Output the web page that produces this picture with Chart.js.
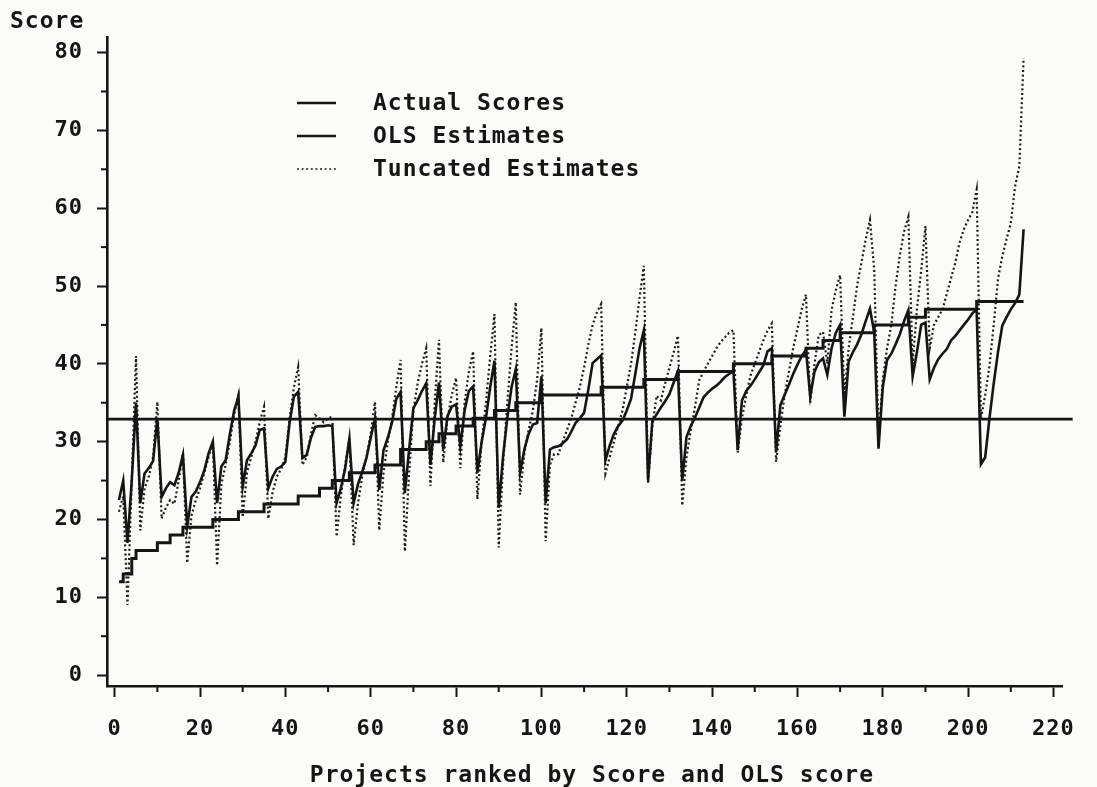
<!DOCTYPE html>
<html>
<head>
<meta charset="utf-8">
<script src="https://cdn.jsdelivr.net/npm/chart.js@4.4.0/dist/chart.umd.min.js"></script>
<style>
html,body{margin:0;padding:0;background:#fbfbf9;}
canvas{display:block;}
</style>
</head>
<body>
<canvas id="c" width="1097" height="787"></canvas>
<script>
// ---- data ----
const actualScores = [
  12,12, 13,13, 15, 16,16,16,16,16, 17,17,17, 18,18,18,
  19,19,19,19,19,19,19, 20,20,20,20,20,20, 21,21,21,21,21,21,
  22,22,22,22,22,22,22,22, 23,23,23,23,23, 24,24,24, 25,25,25,25,
  26,26,26,26,26,26, 27,27,27,27,27,27, 29,29,29,29,29,29,
  30,30,30, 31,31,31,31, 32,32,32,32, 33,33,33,33,33, 34,34,34,34,34,
  35,35,35,35,35,35, 36,36,36,36,36,36,36,36,36,36,36,36,36,36,
  37,37,37,37,37,37,37,37,37,37, 38,38,38,38,38,38,38,38,
  39,39,39,39,39,39,39,39,39,39,39,39,39, 40,40,40,40,40,40,40,40,40,
  41,41,41,41,41,41,41,41, 42,42,42,42, 43,43,43,43,
  44,44,44,44,44,44,44,44, 45,45,45,45,45,45,45,45, 46,46,46,46,
  47,47,47,47,47,47,47,47,47,47,47,47, 48,48,48,48,48,48,48,48,48,48,48
];
const olsEstimates = [
  22.5,25, 17,25, 35, 22.1,25.9,26.6,27.5,33, 22.9,24,24.8, 24.4,26,28.3,
  19.1,22.9,23.6,24.8,26.3,28.5,30, 22.1,26.8,27.6,31,34,35.8, 24.2,27.6,28.5,29.5,31.5,31.7,
  24,25.5,26.5,26.8,27.4,32.5,35.8,36.4, 27.9,28.3,30.5,31.9,32, 32,32.1,32, 22.1,24,26.5,30.4,
  22.1,24.5,26.1,27.9,30.5,33, 23.8,28.9,30.5,32.5,35.5,36.4, 23.4,29,34.3,35.3,36.5,37.5,
  27,33,37.6, 29,33.3,34.5,34.8, 29.4,34,36.5,37.1, 26,30,33,37,40.4, 21.5,28,33,37,39.3,
  26,29,31,32.2,32.4,38.4, 22.1,29,29.3,29.4,29.8,30.3,31.3,32.4,33,33.7,36.7,40.1,40.6,41.1,
  27.6,29.5,31,32,32.7,34,35.5,38.7,42,44.3, 25,32.7,33.5,34.4,35.2,36.1,37.6,39.1,
  25,30.6,32,33.1,34.4,35.7,36.3,36.8,37.2,37.7,38.3,38.7,39.1, 28.9,35.3,36.5,37.2,38,38.9,39.8,41.6,42,
  28.7,34.7,36,37.3,38.7,39.9,41,41.8, 35.8,39,40.2,40.7, 38.6,42,44,45,
  33.2,40.3,41.5,42.5,43.8,45.5,47.1,44, 29.1,37,40.5,41.3,42.5,43.8,45.5,46.9, 38.4,41.5,45,45.3,
  38,39.5,40.6,41.3,41.9,43,43.6,44.3,45,45.7,46.5,47, 27.1,28,33,37.5,41.5,44.9,46,47,47.8,48.9,57.3
];
const truncatedEstimates = [
  21,23, 9,25, 41, 18.6,24,25.5,28,35.1, 20.1,21.5,22.5, 22,25,28.5,
  14.4,20.5,22.5,24,26,28,30, 14.1,24.5,27,30,33.5,36, 20.3,26,28,30,32.5,34.5,
  20.1,23.5,25.5,26.5,28,33,37,39.6, 27,28,31,33.4,33, 32.5,33,33.2, 17.8,23,27,30.4,
  16.7,22,25.5,28,31,35.1, 18.6,26,30,33,37,40.5, 15.9,26,34,37.5,40,42,
  24.3,35,43.1, 27.3,33,36,38.2, 26.6,35,39,41.6, 22.6,30,35,41,46.4, 16.4,27,35,42,47.9,
  23.2,28.5,31.5,34,38,44.6, 17.2,27,28.4,28.4,30,31.5,33,35,37,39.5,42.5,45,46.6,47.7,
  25.9,28,30,32,34,37,40,44,48.5,52.6, 24.6,32,35.9,35.3,37.5,39.5,41.5,43.6,
  21.8,28,31.5,34.5,37.9,39,40,41,42,42.8,43.4,44,44.3, 28.6,33,36,38.5,40,41.5,43,44.3,45.2,
  27.4,32,36,39,42,44.5,47,48.9, 35,40,43.7,44.1, 40,46.9,49.5,51.4,
  36,42,46,50.1,53,56,58.5,52, 30.4,38,42,45,50,54,57,58.9, 40,47,52,57.7,
  42,45,46,47,49,51,53,55.6,57.3,58.5,59.5,62.4, 33,36,39.7,45,50.9,53.8,56,58.1,62.8,65.4,79.3
];
const referenceLevel = 32.9;          // horizontal reference line
const referenceSpan = [-1.7, 224.5];  // its start and end on the x axis
const seriesNames = ['Actual Scores', 'OLS Estimates', 'Tuncated Estimates'];
const xTitle = ' Projects ranked by Score and OLS score';
const yTitle = 'Score';
const xTicks = [0,20,40,60,80,100,120,140,160,180,200,220];
const xMinorTicks = [10,30,50,70,90,110,130,150,170,190,210];
const yTicks = [0,10,20,30,40,50,60,70,80];
const yMinorTicks = [5,15,25,35,45,55,65,75];

// ---- build ----
const projectRank = actualScores.map((_, i) => i + 1);
const toPoints = arr => arr.map((v, i) => ({ x: projectRank[i], y: v }));
const INK = '#151515';
const FONT = "'DejaVu Sans Mono', monospace";

Chart.defaults.font.family = FONT;
Chart.defaults.color = INK;

const spacing = {
  id: 'spacing',
  beforeLayout(c) { c.ctx.letterSpacing = '1px'; },
  beforeDraw(c) { c.ctx.letterSpacing = '1px'; }
};

const minorTicks = {
  id: 'minorTicks',
  afterDraw(chart) {
    const { ctx, scales: { x, y }, chartArea } = chart;
    ctx.save();
    ctx.strokeStyle = INK; ctx.lineWidth = 2;
    xMinorTicks.forEach(v => {
      const px = x.getPixelForValue(v);
      ctx.beginPath(); ctx.moveTo(px, chartArea.bottom); ctx.lineTo(px, chartArea.bottom + 6); ctx.stroke();
    });
    yMinorTicks.forEach(v => {
      const py = y.getPixelForValue(v);
      ctx.beginPath(); ctx.moveTo(chartArea.left, py); ctx.lineTo(chartArea.left - 6, py); ctx.stroke();
    });
    ctx.restore();
  }
};

const inlineLegend = {
  id: 'inlineLegend',
  afterDatasetsDraw(chart) {
    const { ctx, chartArea } = chart;
    const x0 = chartArea.left + 190, y0 = chartArea.top + 66, gap = 33;
    chart.data.datasets.slice(0, 3).forEach((ds, i) => {
      const yy = y0 + i * gap;
      ctx.save();
      ctx.strokeStyle = ds.borderColor;
      ctx.lineWidth = i === 2 ? 1.6 : 2.6;
      ctx.setLineDash(ds.borderDash || []);
      ctx.beginPath(); ctx.moveTo(x0, yy); ctx.lineTo(x0 + 39, yy); ctx.stroke();
      ctx.setLineDash([]);
      ctx.fillStyle = INK;
      ctx.letterSpacing = '1px';
      ctx.font = "bold 23px " + FONT;
      ctx.textBaseline = 'middle';
      ctx.textAlign = 'left';
      ctx.fillText(ds.label, x0 + 76, yy + 1);
      ctx.restore();
    });
  }
};

new Chart(document.getElementById('c'), {
  type: 'line',
  data: {
    datasets: [
      { label: seriesNames[0], data: toPoints(actualScores), borderColor: INK, borderWidth: 3,
        pointRadius: 0, stepped: 'after' },
      { label: seriesNames[1], data: toPoints(olsEstimates), borderColor: INK, borderWidth: 2.6,
        pointRadius: 0, tension: 0 },
      { label: seriesNames[2], data: toPoints(truncatedEstimates), borderColor: '#1c1c1c', borderWidth: 2.2,
        borderDash: [2, 2.6], pointRadius: 0, tension: 0 },
      { label: 'reference', data: referenceSpan.map(x => ({ x, y: referenceLevel })), borderColor: INK,
        borderWidth: 2.6, pointRadius: 0, clip: false }
    ]
  },
  options: {
    responsive: false,
    animation: false,
    events: [],
    layout: { padding: { left: 10, right: 35, top: 0, bottom: 0 } },
    plugins: {
      legend: { display: false },
      tooltip: { enabled: false },
      title: { display: true, text: yTitle, align: 'start', color: INK,
        font: { size: 23, weight: 'bold' }, padding: { top: 8, bottom: 1.4 } }
    },
    scales: {
      x: {
        type: 'linear', min: -1.8, max: 222,
        afterBuildTicks: s => { s.ticks = xTicks.map(v => ({ value: v })); },
        afterFit: s => { s.height = 101; },
        grid: { display: true, drawOnChartArea: false, drawTicks: true, tickLength: 11, tickWidth: 2, tickColor: INK },
        border: { display: true, color: INK, width: 2.6 },
        ticks: { color: INK, font: { size: 22, weight: 'bold' }, padding: 19, maxRotation: 0, autoSkip: false },
        title: { display: true, text: xTitle, color: INK, font: { size: 23, weight: 'bold' }, padding: { top: 0, bottom: -3 } }
      },
      y: {
        type: 'linear', min: -1.4, max: 82,
        afterBuildTicks: s => { s.ticks = yTicks.map(v => ({ value: v })); },
        afterFit: s => { s.width = 97; },
        grid: { display: true, drawOnChartArea: false, drawTicks: true, tickLength: 10, tickWidth: 2, tickColor: INK },
        border: { display: true, color: INK, width: 2.6 },
        ticks: { color: INK, font: { size: 22, weight: 'bold' }, padding: 14, autoSkip: false }
      }
    }
  },
  plugins: [spacing, minorTicks, inlineLegend]
});
</script>
</body>
</html>
